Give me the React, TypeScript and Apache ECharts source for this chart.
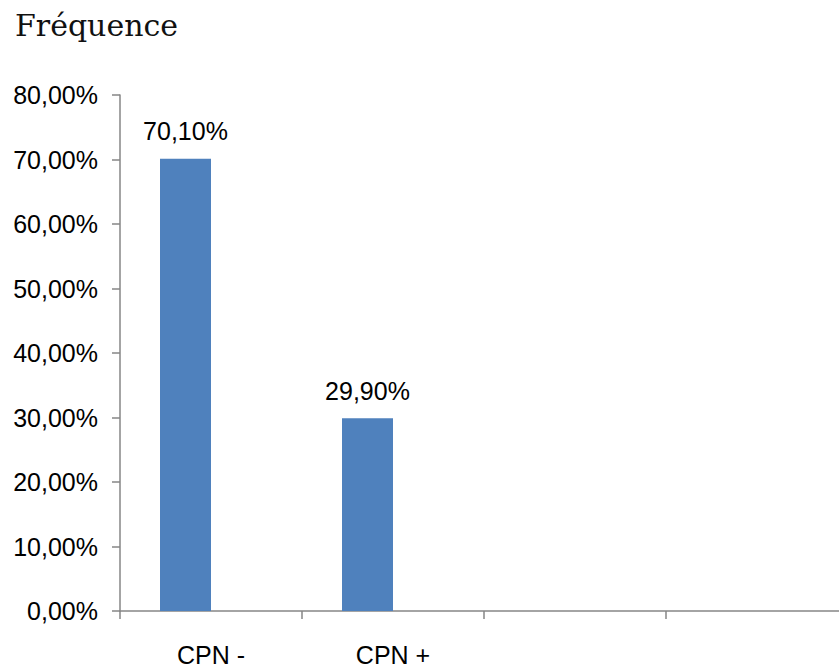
import React, { useEffect, useRef } from "react";
import * as echarts from "echarts";

const categories = ["CPN -", "CPN +", "", ""];
const frequencies = [70.1, 29.9, null, null];
const spareSeries = [null, null, null, null];
const yTicks = [0, 10, 20, 30, 40, 50, 60, 70, 80];

const fmt = (v: number) => v.toFixed(2).replace(".", ",") + "%";

export default function App() {
  const ref = useRef<HTMLDivElement>(null);
  useEffect(() => {
    if (!ref.current) return;
    const chart = echarts.init(ref.current, null, { renderer: "svg" });
    const axisColor = "#868686";
    chart.setOption({
      animation: false,
      title: {
        text: "Fréquence",
        left: 10,
        top: 5,
        textStyle: {
          fontFamily: "DejaVu Serif",
          fontWeight: "normal",
          fontSize: 30,
          color: "#111",
        },
      },
      // the category axis runs past the right edge of the visible area
      grid: { left: 120, top: 95, width: 728, height: 516, containLabel: false },
      xAxis: {
        type: "category",
        data: categories,
        axisLine: { lineStyle: { color: axisColor, width: 1.5 } },
        axisTick: { show: true, length: 8, alignWithLabel: false, lineStyle: { color: axisColor, width: 1.5 } },
        axisLabel: {
          margin: 31,
          fontFamily: "Liberation Sans Narrow, Liberation Sans",
          fontSize: 25,
          color: "#000",
        },
      },
      yAxis: {
        type: "value",
        min: yTicks[0],
        max: yTicks[yTicks.length - 1],
        interval: 10,
        splitLine: { show: false },
        axisLine: { show: true, lineStyle: { color: axisColor, width: 1.5 } },
        axisTick: { show: true, length: 8, lineStyle: { color: axisColor, width: 1.5 } },
        axisLabel: {
          margin: 22,
          fontFamily: "Liberation Sans",
          fontSize: 25,
          color: "#000",
          formatter: (v: number) => fmt(v),
        },
      },
      series: [
        {
          type: "bar",
          data: frequencies,
          barWidth: 51,
          barGap: "0%",
          itemStyle: { color: "#4F81BD" },
          label: {
            show: true,
            position: "top",
            distance: 15,
            fontFamily: "Liberation Sans",
            fontSize: 25,
            color: "#000",
            formatter: (p: any) => fmt(p.value),
          },
        },
        {
          type: "bar",
          data: spareSeries,
          barWidth: 51,
          barGap: "0%",
          itemStyle: { color: "#C0504D" },
        },
      ],
    });
    return () => chart.dispose();
  }, []);
  return (
    <div
      style={{ position: "fixed", left: 0, top: 0, width: 839, height: 672, overflow: "hidden", background: "#fff" }}
    >
      <div ref={ref} style={{ width: 870, height: 672 }} />
    </div>
  );
}
